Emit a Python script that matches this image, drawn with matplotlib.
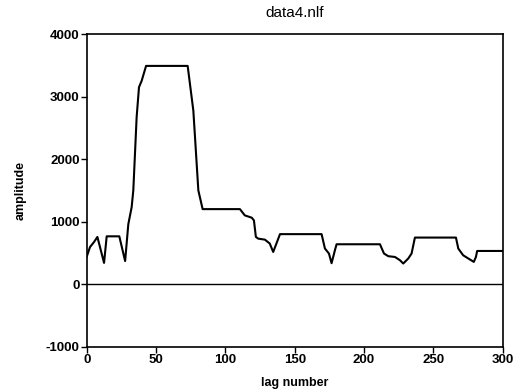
import matplotlib
matplotlib.use("Agg")
import matplotlib.pyplot as plt

# значения (lag, amplitude)
lag = [0, 2.4, 5.3, 7.7, 12.5, 14.4, 23.5, 27.7, 30, 32.4, 33.6, 36, 37.7,
       39.6, 42.8, 72.8, 76.9, 80.5, 83.6, 110.5, 114, 119, 120.6, 122,
       123.7, 128.5, 132, 134.5, 139.4, 169.4, 171.8, 174.7, 176.6, 179,
       180.2, 211.5, 214.4, 217.5, 222.3, 225.9, 228.3, 231.9, 234.3,
       236.7, 266.3, 268, 271.5, 276.4, 279.2, 280.7, 281.6, 300]
amplitude = [440, 595, 675, 755, 340, 765, 765, 370, 960, 1230, 1500, 2670,
             3150, 3250, 3490, 3490, 2775, 1500, 1200, 1200, 1100, 1063, 1020,
             755, 728, 712, 650, 515, 800, 800, 570, 490, 335, 542, 638, 638,
             490, 447, 435, 383, 330, 410, 490, 745, 745, 569, 462, 394, 356,
             435, 531, 531]

xticks = [0, 50, 100, 150, 200, 250, 300]
yticks = [-1000, 0, 1000, 2000, 3000, 4000]

plt.rcParams['font.family'] = ['Liberation Sans', 'DejaVu Sans']
plt.rcParams['axes.unicode_minus'] = False

fig = plt.figure(figsize=(5.24, 3.91), dpi=100)
ax = fig.add_axes([0.1655, 0.1133, 0.7938, 0.7997])

ax.plot(lag, amplitude, color='black', linewidth=1.5)
ax.axhline(0, color='black', linewidth=1.0)

ax.set_xlim(0, 300)
ax.set_ylim(-1000, 4000)
ax.set_xticks(xticks)
ax.set_yticks(yticks)
ax.tick_params(direction='out', length=4, width=1, pad=1, labelsize=9.5)
for lbl in ax.get_xticklabels() + ax.get_yticklabels():
    lbl.set_fontweight('bold')
for sp in ax.spines.values():
    sp.set_linewidth(1.2)

ax.set_title('data4.nlf', fontsize=11, pad=12)
ax.set_xlabel('lag number', fontsize=9, fontweight='bold', labelpad=8)
ax.set_ylabel('amplitude', fontsize=9, fontweight='bold', labelpad=14)

fig.savefig('out.png', dpi=100)
